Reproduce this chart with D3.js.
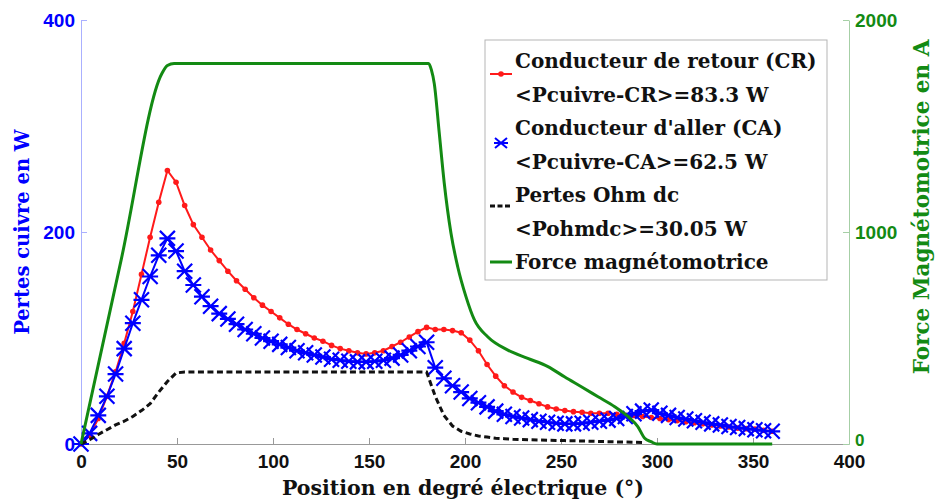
<!DOCTYPE html>
<html><head><meta charset="utf-8">
<script src="https://cdn.jsdelivr.net/npm/d3@7"></script>
<style>body{margin:0;background:#fff}svg{display:block}</style>
</head><body><svg id="c" width="935" height="499"></svg>
<script>
// ---- data ----
const deg = [0,4.5,9,13.5,18,22.5,27,31.5,36,40.5,45,49.5,54,58.5,63,67.5,72,76.5,81,85.5,
  90,94.5,99,103.5,108,112.5,117,121.5,126,130.5,135,139.5,144,148.5,153,157.5,162,166.5,171,175.5,
  180,184.5,189,193.5,198,202.5,207,211.5,216,220.5,225,229.5,234,238.5,243,247.5,252,256.5,261,265.5,
  270,274.5,279,283.5,288,292.5,297,301.5,306,310.5,315,319.5,324,328.5,333,337.5,342,346.5,351,355.5,360];
const pCR = [0,8,24,45,68,95,125,160,195,228,258,247,225,207,195,183,173,163,154,146,
  138,131,125,119,113,108,104,100,97,93,90,88,86,85,86,88,92,96,101,106,
  110,108,108,107,105,98,88,75,64,55,49,44,41,38,35,33,31.5,30.5,30,29,
  29,29,28,27,27,26,25,24,23,22,21,20,19,18,17,16,15,14.5,14,13,12];
const pCA = [0,10,27,45,66,90,114,136,158,178,194,182,163,150,139,130,123,118,113,108,
  104,100,97,94,91,88,86,84,82,80,79,78,77.5,77.5,78,79,81,84,88,92,
  96,72,62,55,49,43,39,35,31,28,26,24.5,23,21.5,20.5,19.5,19,19,19.5,20.5,
  21.5,22.5,24,26,28.5,31,32,29,27,25,23.5,22,20.5,19,18,16.5,15.5,14.5,13.5,12.5,12];
const pOhm = [0,4,9,13.5,18,21.5,26,31.5,38,49,59,67,68,68,68,68,68,68,68,68,
  68,68,68,68,68,68,68,68,68,68,68,68,68,68,68,68,68,68,68,68,
  68,45,27,17,12,9.5,7.5,6.5,5.5,5,4.5,4.2,4,3.8,3.6,3.4,3.2,3,2.8,2.6,
  2.4,2.2,2,1.8,1.6,1.4];
const mmfDeg = [0,21,42,45,48.5,181,182.5,184,186.6,189.2,192.7,196.2,200.5,204.9,211.8,222.3,232.7,243.2,251.8,260.6,269.3,278,285,290,293.6,296.9,300,360];
const mmf    = [0,872,1745,1785,1795,1795,1765,1700,1466,1230,994,836,695,585,506,443,404,365,317,270,223,176,129,82,27,11,0,0];
const xTicks = [0,50,100,150,200,250,300,350,400];
const yTicks = [0,200,400];
const y2Ticks = [0,1000,2000];
const legendLines = ["Conducteur de retour (CR)","<Pcuivre-CR>=83.3 W","Conducteur d'aller (CA)",
  "<Pcuivre-CA>=62.5 W","Pertes Ohm dc","<Pohmdc>=30.05 W","Force magnétomotrice"];
const xTitle = "Position en degré électrique (°)";
const yTitle = "Pertes cuivre en W";
const y2Title = "Force Magnétomotrice en A";

// ---- chart ----
const W = 935, H = 499;
const m = {l:81, r:86, t:20, b:55};
const svg = d3.select("#c");
const x = d3.scaleLinear().domain([0,400]).range([m.l, W-m.r]);
const y = d3.scaleLinear().domain([0,400]).range([H-m.b, m.t]);
const y2 = d3.scaleLinear().domain([0,2000]).range([H-m.b, m.t]);
const BLUE = "#0000ff", RED = "#ff1a1a", GREEN = "#138a13";
const sans = "'Liberation Sans', Arial, sans-serif";
const serif = "'DejaVu Serif', serif";

// axes
const gx = svg.append("g").attr("transform",`translate(0,${H-m.b})`)
  .call(d3.axisBottom(x).tickValues(xTicks).tickSizeInner(-6).tickSizeOuter(0).tickPadding(11));
gx.select(".domain").attr("stroke","#999");
gx.selectAll(".tick line").attr("stroke","#999");
gx.selectAll("text").attr("font-family",sans).attr("font-weight","bold").attr("font-size",19).attr("fill","#111");

const gy = svg.append("g").attr("transform",`translate(${m.l},0)`)
  .call(d3.axisLeft(y).tickValues(yTicks).tickSizeInner(-6).tickSizeOuter(0).tickPadding(6));
gy.select(".domain").attr("stroke","#aab0ff");
gy.selectAll(".tick line").attr("stroke","#aab0ff");
gy.selectAll("text").attr("font-family",sans).attr("font-weight","bold").attr("font-size",19).attr("fill",BLUE);

const gy2 = svg.append("g").attr("transform",`translate(${W-m.r},0)`)
  .call(d3.axisRight(y2).tickValues(y2Ticks).tickFormat(d3.format("d")).tickSizeInner(-6).tickSizeOuter(0).tickPadding(6));
gy2.select(".domain").attr("stroke","#a6cfa6");
gy2.selectAll(".tick line").attr("stroke","#a6cfa6");
gy2.selectAll("text").attr("font-family",sans).attr("font-weight","bold").attr("font-size",19).attr("fill",GREEN);
gy2.selectAll(".tick").filter(d=>d===0).select("text").attr("font-size",17).attr("dy","0.1em");

// titles
svg.append("text").attr("x",(m.l + W-m.r)/2 - 2).attr("y",495).attr("text-anchor","middle")
  .attr("font-family",serif).attr("font-weight","bold").attr("font-size",20.5).attr("fill","#111").text(xTitle);
svg.append("text").attr("transform",`translate(29,232) rotate(-90)`).attr("text-anchor","middle")
  .attr("font-family",serif).attr("font-weight","bold").attr("font-size",19.5).attr("fill",BLUE).text(yTitle);
svg.append("text").attr("transform",`translate(929,207) rotate(-90)`).attr("text-anchor","middle")
  .attr("font-family",serif).attr("font-weight","bold").attr("font-size",21.5).attr("fill",GREEN).text(y2Title);

// series
const line = d3.line().x(d=>x(d[0])).y(d=>y(d[1]));
const cr = deg.map((d,i)=>[d,pCR[i]]);
const ca = deg.map((d,i)=>[d,pCA[i]]);
const oh = pOhm.map((v,i)=>[deg[i],v]);
const mf = mmfDeg.map((d,i)=>[d,mmf[i]]);
const star = "M-7.5,-7.5L7.5,7.5M-7.5,7.5L7.5,-7.5M-8,0L8,0";

svg.append("path").datum(cr).attr("d",line).attr("fill","none").attr("stroke",RED).attr("stroke-width",2);
svg.append("g").selectAll("circle").data(cr).join("circle")
  .attr("cx",d=>x(d[0])).attr("cy",d=>y(d[1])).attr("r",2.8).attr("fill",RED);

svg.append("path").datum(ca).attr("d",line).attr("fill","none").attr("stroke",BLUE).attr("stroke-width",2);
svg.append("g").selectAll("path").data(ca).join("path")
  .attr("transform",d=>`translate(${x(d[0])},${y(d[1])})`).attr("d",star)
  .attr("fill","none").attr("stroke",BLUE).attr("stroke-width",2.2);

svg.append("path").datum(oh).attr("d",line).attr("fill","none").attr("stroke","#111")
  .attr("stroke-width",3).attr("stroke-dasharray","6,3.5");

svg.append("path").datum(mf)
  .attr("d",d3.line().x(d=>x(d[0])).y(d=>y2(d[1])).curve(d3.curveMonotoneX))
  .attr("fill","none").attr("stroke",GREEN).attr("stroke-width",3).attr("stroke-linejoin","round");

// legend
const lg = svg.append("g");
lg.append("rect").attr("x",485).attr("y",40).attr("width",342).attr("height",240)
  .attr("fill","#fff").attr("stroke","#b5b5b5").attr("stroke-width",1);
const rowsY = [61,95,128,162,195,229,262];
legendLines.forEach((t,i)=>{
  lg.append("text").attr("x",515).attr("y",rowsY[i]).attr("dy","0.35em")
    .attr("font-family",serif).attr("font-weight","bold").attr("font-size",20).attr("fill","#111").text(t);
});
lg.append("line").attr("x1",490).attr("x2",512).attr("y1",74).attr("y2",74).attr("stroke",RED).attr("stroke-width",2);
lg.append("circle").attr("cx",501).attr("cy",74).attr("r",2.8).attr("fill",RED);
lg.append("path").attr("transform","translate(501,143)").attr("d","M-6,-5L6,5M-6,5L6,-5M-7,0L7,0")
  .attr("fill","none").attr("stroke",BLUE).attr("stroke-width",2);
lg.append("line").attr("x1",490).attr("x2",512).attr("y1",206).attr("y2",206).attr("stroke","#111")
  .attr("stroke-width",3).attr("stroke-dasharray","5,2.5");
lg.append("line").attr("x1",490).attr("x2",512).attr("y1",262).attr("y2",262).attr("stroke",GREEN).attr("stroke-width",3);
</script></body></html>
